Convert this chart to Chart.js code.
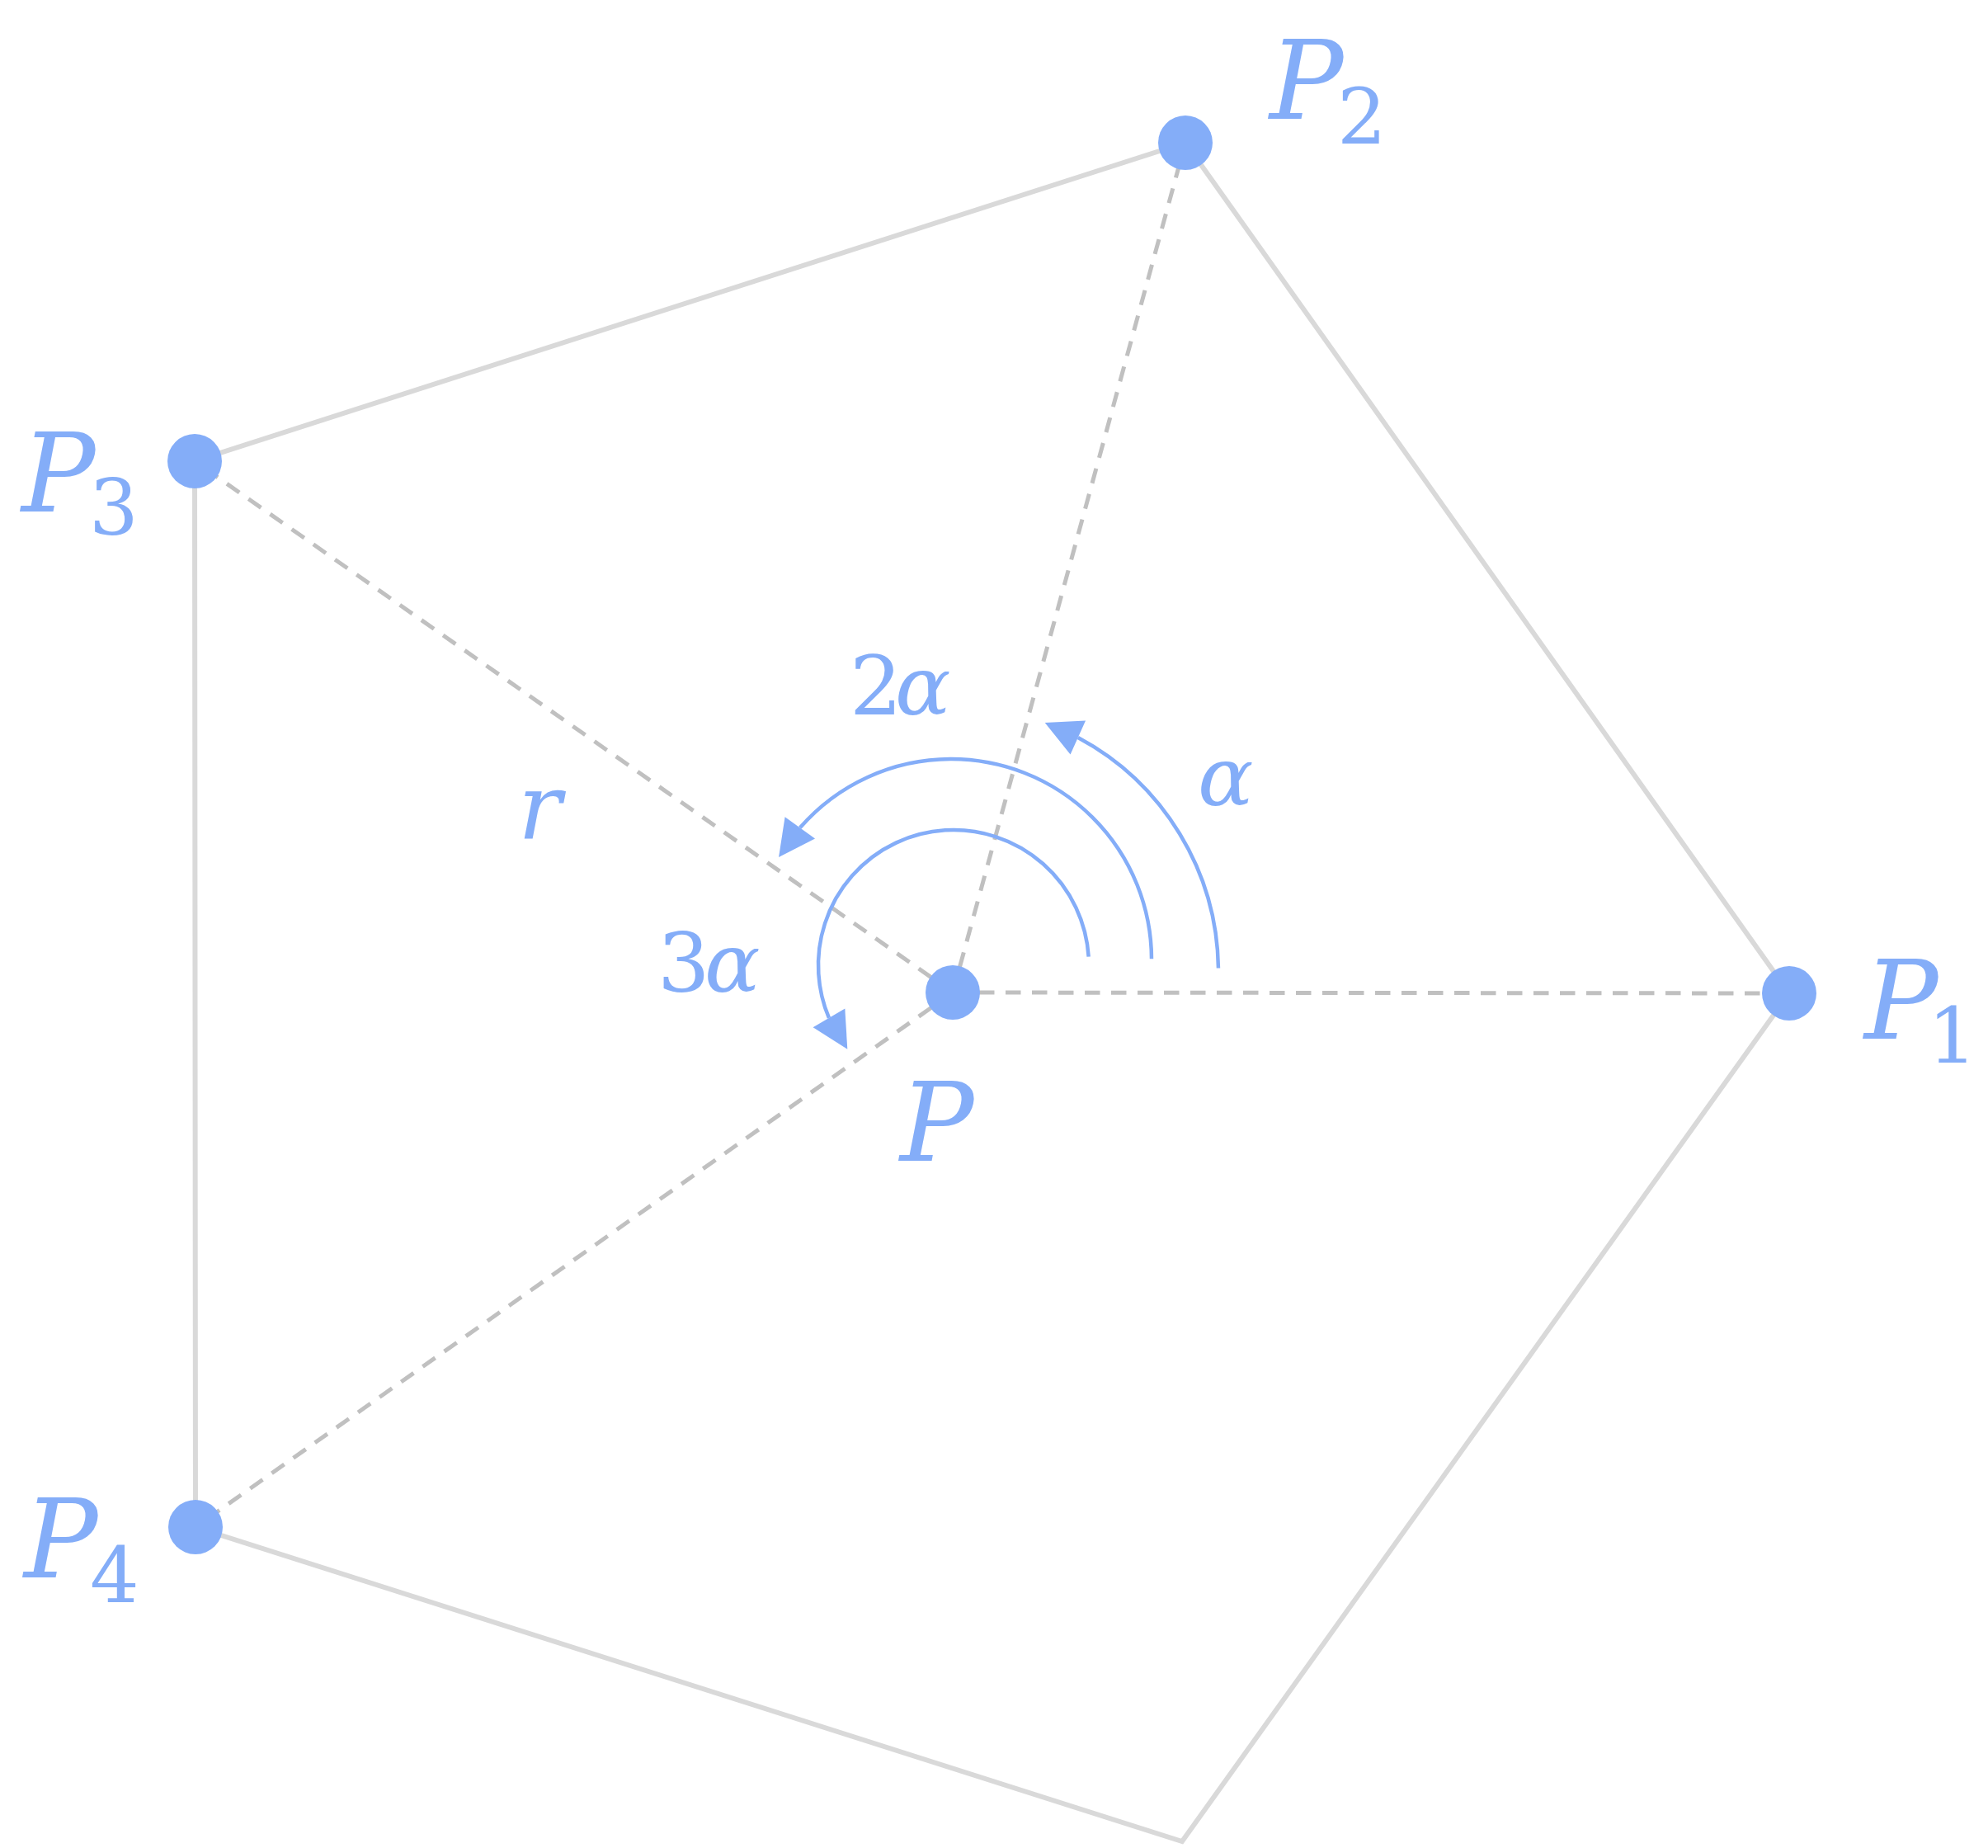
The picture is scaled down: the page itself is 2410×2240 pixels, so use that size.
<!DOCTYPE html>
<html><head><meta charset="utf-8">
<script src="https://cdn.jsdelivr.net/npm/chart.js@4.4.1/dist/chart.umd.min.js"></script>
<style>html,body{margin:0;padding:0;background:#fff;overflow:hidden}canvas{display:block}</style>
</head><body>
<canvas id="c" width="2410" height="2240" style="width:2410px;height:2240px"></canvas>
<script>
// ---- values (origin at P, y up) ----
const pointNames = ['P', 'P1', 'P2', 'P3', 'P4'];
const pointX = [0, 1014, 282, -919, -918];
const pointY = [0, -1, 1030, 644, -648];
const polygonX = [1014, 282, -919, -918, 278, 1014];
const polygonY = [-1, 1030, 644, -648, -1029, -1];
const angleNames = ['α', '2α', '3α'];
const arcCenterX = [0, -2, 1];
const arcCenterY = [25, 40, 33];
const arcRadius = [322, 243, 164];
const arcStartDeg = [0.8, 0.2, 3.6];
const arcEndDeg = [69.7, 149.3, 218.3];
const axisX = [-1155, 1255];
const axisY = [-1037, 1203];

// ---- styles / layout ----
const BLUE = '#84adf8';
const POLY = '#d9d9d9';
const DASH = '#c0c0c0';
const FONTS = {
  P: 'italic 133px "DejaVu Serif"',
  sub: '94px "DejaVu Serif"',
  ang: 'italic 100px "DejaVu Serif"',
  num: '100px "DejaVu Serif"',
  r: 'italic 110px "DejaVu Serif"'
};
// anchor = index of point; parts: [text, font, ink-left dx (or 'f' = follow previous ink with gap), baseline dy, gap]
const labelLayout = [
  {anchor: 0, parts: [['P', 'P', -67, 204]]},
  {anchor: 1, parts: [['P', 'P', 88, 55], ['1', 'sub', 'f', 84, -4]]},
  {anchor: 2, parts: [['P', 'P', 99, -29], ['2', 'sub', 'f', 1, -4]]},
  {anchor: 3, parts: [['P', 'P', -213, 61], ['3', 'sub', 'f', 89, -3]]},
  {anchor: 4, parts: [['P', 'P', -211, 61], ['4', 'sub', 'f', 91, -10]]},
  {anchor: 0, parts: [['α', 'ang', 301, -227]]},
  {anchor: 0, parts: [['2', 'num', -119, -337], ['α', 'ang', 'f', -337, 5]]},
  {anchor: 0, parts: [['3', 'num', -351, -1], ['α', 'ang', 'f', -1, 4]]},
  {anchor: 0, parts: [['r', 'r', -520, -186]]}
];
const ARROW_LEN = 44, ARROW_W = 45;

const pts = pointX.map((x, i) => ({x, y: pointY[i]}));
const poly = polygonX.map((x, i) => ({x, y: polygonY[i]}));

const datasets = [];
datasets.push({
  label: 'points', data: pts, order: 0, showLine: false,
  pointRadius: 33, pointHoverRadius: 33, pointBackgroundColor: BLUE,
  pointBorderWidth: 0, borderWidth: 0, clip: false
});
for (let i = 1; i < pts.length; i++) {
  datasets.push({
    label: 'spoke' + i, data: [pts[0], pts[i]], order: 1, showLine: true,
    borderColor: DASH, borderWidth: 5, borderDash: [18.5, 13.5], borderCapStyle: 'butt',
    pointRadius: 0, clip: false
  });
}
datasets.push({
  label: 'polygon', data: poly, order: 2, showLine: true,
  borderColor: POLY, borderWidth: 6, borderJoinStyle: 'miter', pointRadius: 0, clip: false
});

const arcPlugin = {
  id: 'arcs',
  afterDatasetsDraw(chart) {
    const ctx = chart.ctx, xs = chart.scales.x, ys = chart.scales.y;
    ctx.save();
    ctx.strokeStyle = BLUE; ctx.fillStyle = BLUE; ctx.lineWidth = 4.5;
    for (let i = 0; i < arcRadius.length; i++) {
      const cx = xs.getPixelForValue(arcCenterX[i]);
      const cy = ys.getPixelForValue(arcCenterY[i]);
      const r = xs.getPixelForValue(arcCenterX[i] + arcRadius[i]) - cx;
      const ts = arcStartDeg[i] * Math.PI / 180;
      const tt = arcEndDeg[i] * Math.PI / 180;
      const tb = tt - ARROW_LEN / r;
      ctx.beginPath();
      ctx.arc(cx, cy, r, -ts, -tb, true);
      ctx.stroke();
      const bx = cx + r * Math.cos(tb), by = cy - r * Math.sin(tb);
      const tx = cx + r * Math.cos(tt), ty = cy - r * Math.sin(tt);
      let dx = tx - bx, dy = ty - by; const L = Math.hypot(dx, dy); dx /= L; dy /= L;
      const nx = -dy, ny = dx, h = ARROW_W / 2;
      ctx.beginPath();
      ctx.moveTo(tx, ty);
      ctx.lineTo(bx + nx * h, by + ny * h);
      ctx.lineTo(bx - nx * h, by - ny * h);
      ctx.closePath();
      ctx.fill();
    }
    ctx.restore();
  },
  afterDraw(chart) {
    const ctx = chart.ctx, xs = chart.scales.x, ys = chart.scales.y;
    ctx.save();
    ctx.fillStyle = BLUE; ctx.textAlign = 'left'; ctx.textBaseline = 'alphabetic';
    labelLayout.forEach(l => {
      const ax = xs.getPixelForValue(pointX[l.anchor]);
      const ay = ys.getPixelForValue(pointY[l.anchor]);
      let prevRight = 0;
      l.parts.forEach(([t, f, dx, dy, gap]) => {
        ctx.font = FONTS[f];
        const m = ctx.measureText(t);
        const inkLeft = dx === 'f' ? prevRight + gap : ax + dx;
        const x = inkLeft + m.actualBoundingBoxLeft;
        ctx.fillText(t, x, ay + dy);
        prevRight = x + m.actualBoundingBoxRight;
      });
    });
    ctx.restore();
  }
};

new Chart(document.getElementById('c'), {
  type: 'scatter',
  data: {datasets},
  options: {
    responsive: false, devicePixelRatio: 1, animation: false,
    layout: {padding: 0, autoPadding: false},
    plugins: {legend: {display: false}, tooltip: {enabled: false}},
    events: [],
    scales: {
      x: {type: 'linear', min: axisX[0], max: axisX[1], display: false},
      y: {type: 'linear', min: axisY[0], max: axisY[1], display: false}
    }
  },
  plugins: [arcPlugin]
});
</script>
</body></html>
